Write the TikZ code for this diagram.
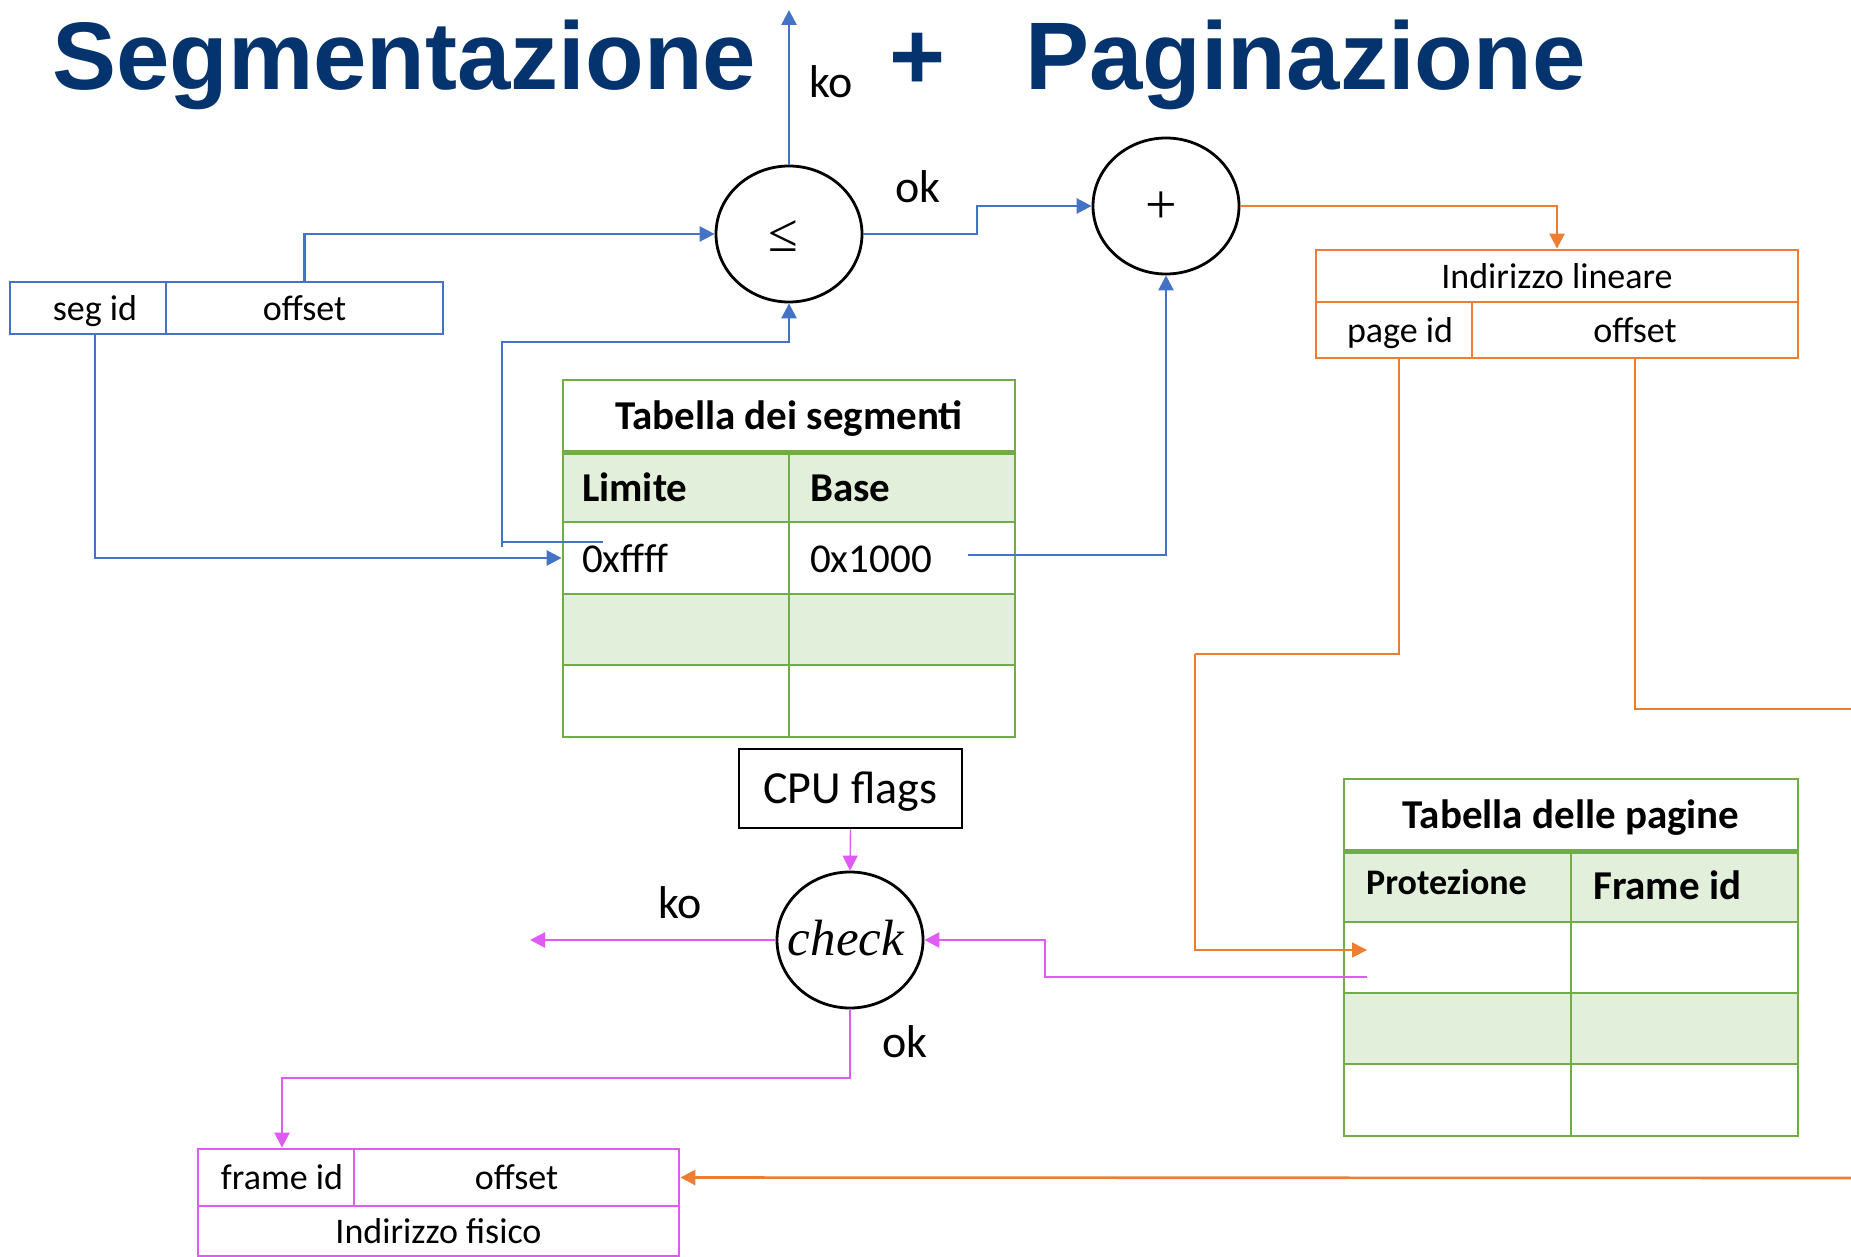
\documentclass[tikz,border=0pt]{standalone}
\usepackage{fontspec}
\setmainfont{Carlito}
\newfontfamily\titlefont{Liberation Sans}
\newfontfamily\opfont{Liberation Serif}
\usetikzlibrary{arrows.meta,shapes.geometric}

\definecolor{titleblue}{RGB}{5,51,110}
\definecolor{segblue}{RGB}{68,114,196}
\definecolor{pgorange}{RGB}{237,125,49}
\definecolor{chkmag}{RGB}{224,90,245}
\definecolor{tabgreen}{RGB}{112,173,71}
\definecolor{tabfill}{RGB}{226,239,218}

\begin{document}
\begin{tikzpicture}[x=1pt,y=-1pt,
  tip/.style={-{Triangle[length=15pt,width=15pt]}},
  bline/.style={draw=segblue,line width=2.6pt},
  oline/.style={draw=pgorange,line width=2.6pt},
  othin/.style={draw=pgorange,line width=1.6pt},
  mline/.style={draw=chkmag,line width=2.6pt},
  mthin/.style={draw=chkmag,line width=1.4pt},
  lbl/.style={font=\fontsize{36}{43}\selectfont,text height=24pt,text depth=0pt},
  big/.style={font=\fontsize{46}{55}\selectfont},
  tabtxt/.style={font=\fontsize{41}{49}\selectfont},
  tabhead/.style={font=\bfseries\fontsize{41}{49}\selectfont,text height=28pt,text depth=0pt},
  txt/.style={inner sep=0pt,anchor=base west},
  cell/.style={rectangle,inner sep=0pt,line width=2.8pt},
  bcell/.style={cell,draw=segblue,lbl},
  ocell/.style={cell,draw=pgorange,lbl},
  mcell/.style={cell,draw=chkmag,lbl},
  gcell/.style={cell,draw=tabgreen},
  gfill/.style={gcell,fill=tabfill},
  opnode/.style={ellipse,draw=black,line width=2.8pt,minimum width=146pt,minimum height=136pt,inner sep=0pt},
  title/.style={inner sep=0pt,anchor=base west,text=titleblue,font=\titlefont\bfseries\fontsize{96}{110}\selectfont}
]
\useasboundingbox (0,0) rectangle (1851,1257);

% Title
\node[title] (tseg) at (52,90) {Segmentazione};
\node[title] (tplus) at (889,90) {+};
\node[title] (tpag) at (1025,90) {Paginazione};

% Logical address (segment id + offset)
\node[bcell,minimum width=156pt,minimum height=52pt] (segid) at (88,308) {\hspace*{14pt}seg id};
\node[bcell,minimum width=277pt,minimum height=52pt] (segoff) at (304.5,308) {offset};

% Comparator and adder
\node[opnode] (le) at (789,234) {};
\node[inner sep=0pt,font=\opfont\fontsize{54}{64}\selectfont] (lesym) at (783,236) {≤};
\node[opnode] (plus) at (1166,206) {};
\node[inner sep=0pt,font=\opfont\fontsize{56}{66}\selectfont] (plussym) at (1161,208) {+};

% Segment table
\node[gcell,minimum width=452pt,minimum height=71pt,tabhead] (segT) at (789,415.5) {Tabella dei segmenti};
\node[gfill,minimum width=226pt,minimum height=71pt] (segH1) at (676,486.5) {};
\node[gfill,minimum width=226pt,minimum height=71pt] (segH2) at (902,486.5) {};
\node[gcell,minimum width=226pt,minimum height=72pt] (segR1a) at (676,558) {};
\node[gcell,minimum width=226pt,minimum height=72pt] (segR1b) at (902,558) {};
\node[gfill,minimum width=226pt,minimum height=71pt] (segR2a) at (676,629.5) {};
\node[gfill,minimum width=226pt,minimum height=71pt] (segR2b) at (902,629.5) {};
\node[gcell,minimum width=226pt,minimum height=72pt] (segR3a) at (676,701) {};
\node[gcell,minimum width=226pt,minimum height=72pt] (segR3b) at (902,701) {};
\draw[draw=tabgreen,line width=5pt] (segT.south west) -- (segT.south east);
\node[txt,font=\bfseries\fontsize{41}{49}\selectfont] (limh) at (582,501) {Limite};
\node[txt,font=\bfseries\fontsize{41}{49}\selectfont] (baseh) at (810,501) {Base};
\node[txt,tabtxt] (limv) at (582,572) {0xffff};
\node[txt,tabtxt] (basev) at (810,572) {0x1000};

% Linear address
\node[ocell,minimum width=482pt,minimum height=52pt] (linT) at (1557,276) {Indirizzo lineare};
\node[ocell,minimum width=156pt,minimum height=56pt] (pageid) at (1394,330) {\hspace*{12pt}page id};
\node[ocell,minimum width=326pt,minimum height=56pt] (linoff) at (1635,330) {offset};

% CPU flags and protection check
\node[cell,draw=black,minimum width=223pt,minimum height=79pt,big,text height=29pt,text depth=0pt] (cpu) at (850.5,788.5) {CPU flags};
\node[opnode] (check) at (850,940) {};
\node[inner sep=0pt,anchor=base,font=\opfont\itshape\fontsize{51}{61}\selectfont] (checksym) at (846,955) {check};

% Page table
\node[gcell,minimum width=454pt,minimum height=71pt,tabhead] (pgT) at (1571,814.5) {Tabella delle pagine};
\node[gfill,minimum width=227pt,minimum height=72pt] (pgH1) at (1457.5,886) {};
\node[gfill,minimum width=227pt,minimum height=72pt] (pgH2) at (1684.5,886) {};
\node[gcell,minimum width=227pt,minimum height=71pt] (pgR1a) at (1457.5,957.5) {};
\node[gcell,minimum width=227pt,minimum height=71pt] (pgR1b) at (1684.5,957.5) {};
\node[gfill,minimum width=227pt,minimum height=71pt] (pgR2a) at (1457.5,1028.5) {};
\node[gfill,minimum width=227pt,minimum height=71pt] (pgR2b) at (1684.5,1028.5) {};
\node[gcell,minimum width=227pt,minimum height=72pt] (pgR3a) at (1457.5,1100) {};
\node[gcell,minimum width=227pt,minimum height=72pt] (pgR3b) at (1684.5,1100) {};
\draw[draw=tabgreen,line width=5pt] (pgT.south west) -- (pgT.south east);
\node[txt,font=\bfseries\fontsize{36}{43}\selectfont] (proth) at (1366,894) {Protezione};
\node[txt,font=\bfseries\fontsize{41}{49}\selectfont] (frameh) at (1593,899) {Frame id};

% Physical address
\node[mcell,minimum width=156pt,minimum height=57pt] (frameid) at (276,1177.5) {\hspace*{12pt}frame id};
\node[mcell,minimum width=325pt,minimum height=57pt] (phoff) at (516.5,1177.5) {offset};
\node[mcell,minimum width=481pt,minimum height=50pt] (phys) at (438.5,1231) {Indirizzo fisico};

% Connector end points and bends
\coordinate (koTop) at (789,10);
\coordinate (okx) at (977,0);
\coordinate (limA) at (603,542);
\coordinate (limC) at (502,542);
\coordinate (lbend) at (502,342);
\coordinate (baseOut) at (968,555);
\coordinate (pb) at (1195,654);
\coordinate (pgIn) at (1367,950);
\coordinate (offEdge) at (1851,709);
\coordinate (physEdge) at (1851,1178);
\coordinate (pgOut) at (1367,977);
\coordinate (mJoin) at (1166,977);
\coordinate (mb) at (1045,977);
\coordinate (koEnd) at (530,940);
\coordinate (fb) at (0,1078);

% Segmentation connectors
\draw[bline,tip] (le.north) -- (koTop);
\node[txt,big] (ko1) at (809,98) {ko};
\draw[bline,tip] (segoff.north) |- (le.west);
\draw[bline,tip] ([xshift=7pt]segid.south) |- (segR1a.west);
\draw[draw=segblue,line width=1.3pt] (limA) -- (limC);
\draw[bline,tip] ([yshift=-5pt]limC) -- (lbend) -| (le.south);
\draw[bline,tip] (le.east) -- (le.east -| okx) |- (plus.west);
\node[txt,big] (ok1) at (895,203) {ok};
\draw[bline,tip] (baseOut) -| (plus.south);

% Paging connectors
\draw[oline,tip] (plus.east) -| (linT.north);
\draw[othin] ([xshift=5pt]pageid.south) |- (pb);
\draw[othin,tip] (pb) |- (pgIn);
\draw[othin] (linoff.south) |- (offEdge);
\draw[oline,tip] (physEdge) -- (phoff.east);

% Protection check connectors
\draw[mthin] (pgOut) -- (mJoin);
\draw[mline,tip] (mJoin) -- (mb) |- (check.east);
\draw[mthin,tip] (cpu.south) -- (check.north);
\draw[mline,tip] (check.west) -- (koEnd);
\node[txt,big] (ko2) at (658,918) {ko};
\draw[mline,tip] (check.south) -- (check.south |- fb) -| ([xshift=6pt]frameid.north);
\node[txt,big] (ok2) at (882,1057) {ok};
\end{tikzpicture}
\end{document}
